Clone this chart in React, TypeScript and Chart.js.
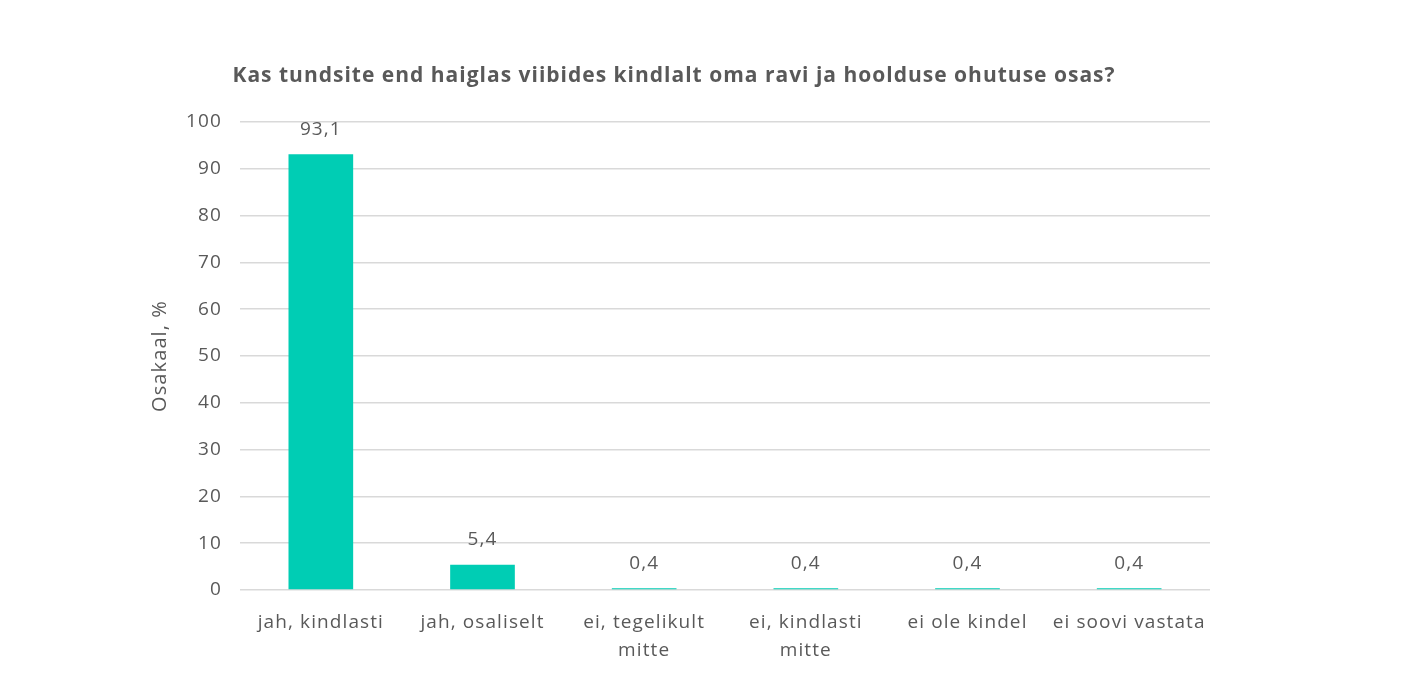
import React, { useEffect, useRef } from "react";
import { Chart, registerables } from "chart.js";

Chart.register(...registerables);

const TITLE = "Kas tundsite end haiglas viibides kindlalt oma ravi ja hoolduse ohutuse osas?";
const categories: (string | string[])[] = [
  "jah, kindlasti",
  "jah, osaliselt",
  ["ei, tegelikult", "mitte"],
  ["ei, kindlasti", "mitte"],
  "ei ole kindel",
  "ei soovi vastata",
];
const shares = [93.1, 5.4, 0.4, 0.4, 0.4, 0.4];
const Y_TITLE = "Osakaal, %";

const FONT = "'Open Sans', sans-serif";
const TEXT = "#595959";
const BAR = "#00CDB4";
const SPACING = "1.1px";

export default function App() {
  const ref = useRef<HTMLCanvasElement>(null);
  useEffect(() => {
    if (!ref.current) return;
    const spacingPlugin = {
      id: "spacing",
      beforeDraw(chart: any) {
        (chart.ctx as any).letterSpacing = SPACING;
      },
    };
    const labelPlugin = {
      id: "valueLabels",
      afterDatasetsDraw(chart: any) {
        const ctx = chart.ctx;
        const meta = chart.getDatasetMeta(0);
        ctx.save();
        (ctx as any).letterSpacing = SPACING;
        ctx.fillStyle = TEXT;
        ctx.font = `19px ${FONT}`;
        ctx.textAlign = "center";
        ctx.textBaseline = "middle";
        meta.data.forEach((el: any, i: number) => {
          const v = shares[i];
          ctx.fillText(v.toFixed(1).replace(".", ","), el.x, el.y - 25);
        });
        ctx.restore();
      },
    };
    const titlePlugin = {
      id: "customTitle",
      afterDraw(chart: any) {
        const ctx = chart.ctx;
        ctx.save();
        (ctx as any).letterSpacing = "1px";
        ctx.fillStyle = TEXT;
        ctx.font = `bold 21px ${FONT}`;
        ctx.textAlign = "center";
        ctx.textBaseline = "middle";
        ctx.fillText(TITLE, 674, 76);
        ctx.restore();
      },
    };
    const chart = new Chart(ref.current, {
      type: "bar",
      data: {
        labels: categories,
        datasets: [
          {
            data: shares,
            backgroundColor: BAR,
            barPercentage: 0.4,
            categoryPercentage: 1,
          },
        ],
      },
      options: {
        animation: false,
        responsive: false,
        maintainAspectRatio: false,
        layout: { padding: { top: 122, left: 148, right: 201, bottom: 0 } },
        plugins: {
          legend: { display: false },
          title: { display: false },
          tooltip: { enabled: false },
        },
        scales: {
          x: {
            grid: { display: false },
            border: { display: false },
            ticks: {
              color: TEXT,
              font: { family: FONT, size: 19, lineHeight: 1.5 },
              padding: 10,
              maxRotation: 0,
              autoSkip: false,
            },
            afterFit(scale: any) {
              scale.height = 99;
            },
          },
          y: {
            min: 0,
            max: 100,
            ticks: {
              stepSize: 10,
              color: TEXT,
              font: { family: FONT, size: 19 },
              padding: 18,
            },
            grid: { color: "#D9D9D9", lineWidth: 1.5, drawTicks: false },
            border: { display: false },
            title: {
              display: true,
              text: Y_TITLE,
              color: TEXT,
              font: { family: FONT, size: 20 },
              padding: 0,
            },
            afterFit(scale: any) {
              scale.width = 92;
            },
          },
        },
      },
      plugins: [spacingPlugin, labelPlugin, titlePlugin],
    });
    return () => chart.destroy();
  }, []);
  return (
    <div style={{ position: "fixed", left: 0, top: 0, width: 1411, height: 689, background: "#fff" }}>
      <canvas ref={ref} width={1411} height={689} />
    </div>
  );
}
